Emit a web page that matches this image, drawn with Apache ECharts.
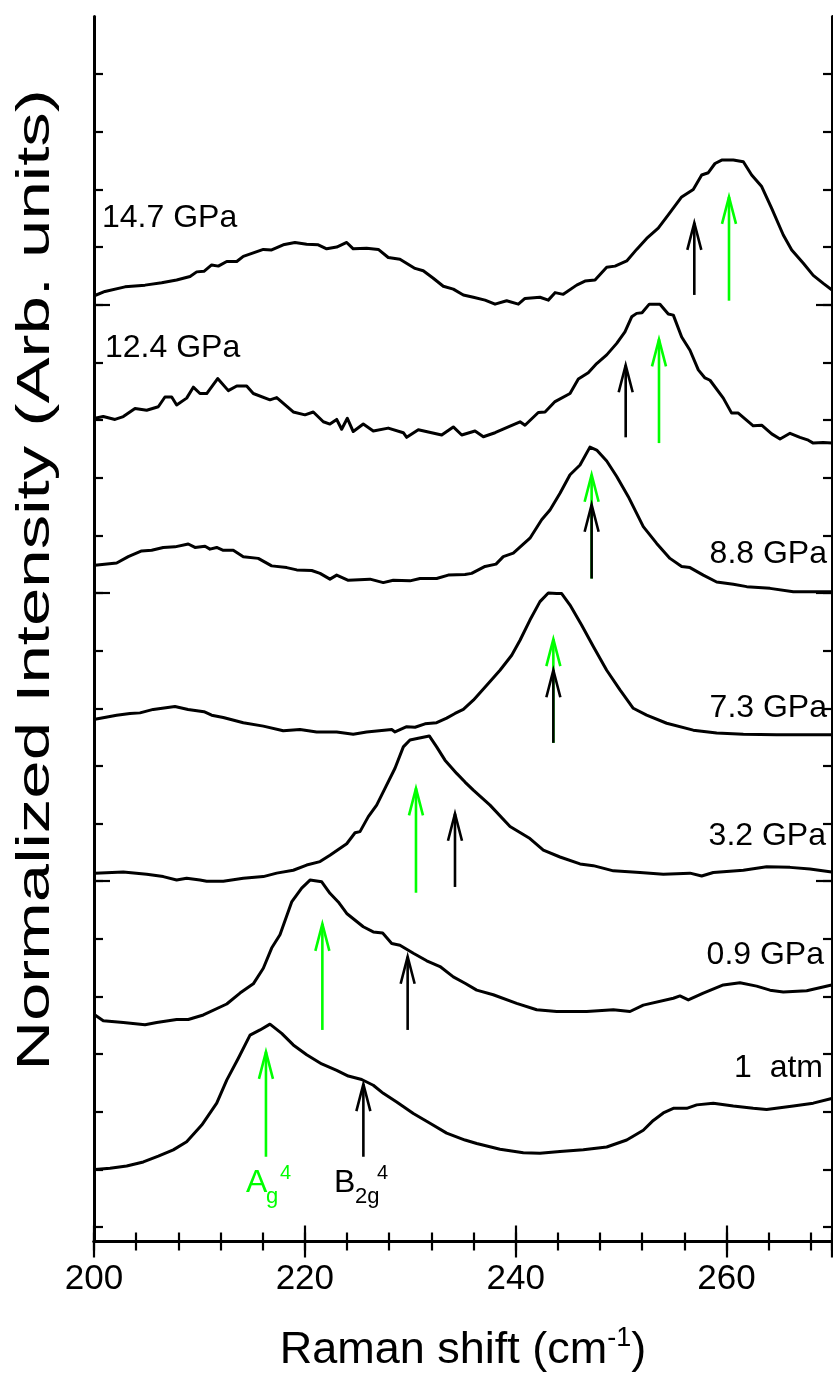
<!DOCTYPE html>
<html><head><meta charset="utf-8">
<script src="https://cdn.jsdelivr.net/npm/echarts@6/dist/echarts.min.js"></script>
<style>html,body{margin:0;padding:0;background:#fff}#c{width:833px;height:1378px}</style>
</head><body><div id="c"></div><script>
// ---- spectra (Raman shift in cm^-1, offset normalized intensity) ----
const shift_147 = [200.09,201.04,202.94,204.84,206.42,207.84,209.11,209.74,210.43,211.16,211.79,212.59,213.54,214.16,215.11,216.06,216.85,217.95,219.06,220.17,221.27,222.07,223.02,223.97,224.59,225.86,226.97,227.91,229.02,230.45,231.23,232.18,233.13,234.08,235.03,235.98,237.09,238.04,239.14,240.25,240.88,242.3,243.09,243.73,244.51,245.78,246.57,247.52,248.63,249.42,250.53,251.47,252.42,253.52,254.47,255.74,256.84,257.64,258.27,258.9,259.54,260.64,261.59,262.38,263.33,264.28,265.38,266.18,267.28,268.22,269.17,269.97];
const int_147 = [16.41,16.48,16.56,16.59,16.63,16.68,16.74,16.82,16.83,16.94,16.92,17.00,17.00,17.09,17.15,17.21,17.20,17.29,17.33,17.30,17.29,17.22,17.25,17.33,17.22,17.23,17.21,17.07,17.04,16.88,16.84,16.71,16.57,16.52,16.42,16.38,16.33,16.26,16.32,16.26,16.36,16.38,16.33,16.46,16.43,16.59,16.66,16.68,16.90,16.92,17.01,17.21,17.40,17.58,17.81,18.12,18.25,18.50,18.54,18.70,18.76,18.76,18.73,18.50,18.30,17.92,17.46,17.20,16.97,16.76,16.62,16.51];

const shift_124 = [200.09,200.88,201.99,202.78,203.89,205.0,206.1,206.73,207.37,207.84,208.79,209.42,210.05,210.69,211.73,212.74,213.54,214.48,215.11,216.69,217.33,218.9,220.01,220.8,221.75,222.38,223.02,223.49,224.03,224.59,225.54,226.49,227.91,229.34,229.66,230.76,232.98,234.08,234.88,236.14,236.93,238.04,239.3,240.41,240.88,242.14,242.78,243.73,245.15,245.94,246.88,247.68,248.63,249.58,250.36,251.0,251.47,251.98,252.67,253.68,254.47,254.95,255.74,256.53,257.32,257.95,258.43,259.69,260.48,261.11,262.53,263.33,264.28,265.07,266.02,266.96,267.75,268.22,269.17,269.97];
const int_124 = [14.28,14.31,14.26,14.31,14.45,14.42,14.48,14.65,14.65,14.51,14.63,14.82,14.71,14.71,14.97,14.76,14.84,14.84,14.71,14.60,14.64,14.39,14.34,14.39,14.22,14.18,14.26,14.09,14.28,14.05,14.18,14.06,14.11,14.03,13.95,14.08,13.99,14.13,13.99,14.06,13.96,14.03,14.13,14.22,14.16,14.38,14.39,14.57,14.71,14.96,15.07,15.23,15.38,15.58,15.78,16.04,16.10,16.11,16.26,16.26,16.09,16.07,15.69,15.46,15.12,14.98,14.94,14.63,14.37,14.37,14.15,14.16,14.01,13.92,14.02,13.95,13.90,13.85,13.86,13.85];

const shift_88 = [200.09,202.15,203.25,204.52,205.47,206.57,207.68,208.94,209.58,210.53,211.0,211.64,212.26,213.21,214.16,215.58,216.85,218.28,219.23,220.65,221.44,222.38,223.02,224.12,226.18,227.44,228.39,229.97,230.92,232.5,233.6,235.19,235.82,237.09,238.13,238.82,239.77,241.35,242.46,243.25,244.2,245.15,246.1,247.04,247.68,248.63,249.58,250.68,252.1,253.37,254.63,255.74,256.53,257.79,259.06,260.64,261.91,264.12,266.33,267.91,270.0];
const int_88 = [11.73,11.77,11.88,11.98,11.99,12.04,12.05,12.10,12.04,12.06,12.01,12.04,11.99,11.99,11.88,11.85,11.72,11.69,11.65,11.64,11.59,11.49,11.56,11.47,11.49,11.43,11.47,11.46,11.50,11.50,11.56,11.57,11.59,11.71,11.75,11.88,11.94,12.20,12.52,12.69,12.98,13.30,13.47,13.78,13.73,13.54,13.27,12.92,12.40,12.11,11.85,11.71,11.69,11.56,11.44,11.40,11.36,11.33,11.27,11.27,11.27];

const shift_73 = [200.09,202.15,203.41,204.36,205.62,207.68,208.92,210.43,211.16,212.26,214.16,216.06,217.95,219.54,221.12,223.02,224.59,225.86,228.24,228.55,229.66,230.45,231.4,232.5,233.45,234.24,235.03,235.98,237.25,238.51,239.62,240.41,241.35,242.3,243.09,243.89,244.36,245.15,246.26,247.36,248.63,249.89,251.15,252.42,254.32,256.84,259.06,261.59,264.75,269.97];
const int_73 = [9.06,9.13,9.16,9.17,9.23,9.28,9.23,9.19,9.13,9.09,9.00,8.94,8.86,8.88,8.84,8.84,8.80,8.84,8.88,8.84,8.93,8.92,8.98,9.00,9.08,9.16,9.23,9.39,9.65,9.91,10.17,10.43,10.78,11.10,11.25,11.24,11.24,11.04,10.69,10.32,9.91,9.57,9.25,9.13,8.99,8.87,8.82,8.80,8.79,8.79];

const shift_32 = [200.09,202.78,205.0,206.57,207.84,208.79,210.05,210.69,212.26,214.16,216.06,217.33,218.9,220.17,221.44,222.38,223.97,224.76,225.23,226.02,226.81,227.6,228.55,229.34,229.97,230.76,231.8,232.5,233.29,234.4,235.19,235.98,237.56,239.46,241.35,242.62,244.2,246.1,247.36,249.26,251.79,254.0,256.53,257.64,258.74,261.59,263.8,266.02,267.91,269.97];
const int_32 = [6.39,6.41,6.37,6.33,6.27,6.30,6.27,6.25,6.25,6.30,6.33,6.39,6.44,6.53,6.59,6.70,6.90,7.09,7.11,7.37,7.57,7.86,8.21,8.58,8.70,8.73,8.77,8.58,8.35,8.12,7.97,7.83,7.57,7.20,6.99,6.79,6.67,6.55,6.52,6.43,6.40,6.37,6.39,6.34,6.40,6.44,6.50,6.49,6.46,6.41];

const shift_09 = [200.09,200.88,202.78,204.84,205.95,207.84,208.94,210.37,212.59,213.85,215.11,216.06,216.85,217.64,218.75,219.7,220.49,221.6,222.38,223.17,223.97,225.54,226.49,227.38,228.24,229.02,230.29,231.56,232.82,234.08,235.19,236.3,237.87,240.09,241.99,243.89,246.73,249.26,250.84,252.1,254.95,255.58,256.37,257.79,259.69,261.27,262.85,264.12,265.38,267.6,269.97];
const int_09 = [3.93,3.83,3.80,3.76,3.80,3.85,3.85,3.93,4.12,4.31,4.47,4.74,5.09,5.32,5.89,6.13,6.27,6.24,6.04,5.89,5.69,5.46,5.37,5.35,5.17,5.14,5.00,4.87,4.77,4.59,4.48,4.36,4.28,4.13,4.02,3.99,3.99,4.02,3.99,4.10,4.22,4.26,4.19,4.31,4.45,4.49,4.43,4.36,4.33,4.35,4.45];

const shift_atm = [200.09,201.52,203.1,204.68,206.1,207.52,208.79,210.22,211.64,212.59,213.69,214.8,215.75,216.69,217.8,218.9,220.17,221.6,223.02,224.12,225.39,226.49,227.44,228.71,230.29,231.87,233.45,235.19,236.3,238.51,240.72,242.3,244.2,246.41,248.63,250.53,252.1,253.05,254.0,254.95,256.22,257.17,258.74,260.64,262.53,263.8,266.33,268.22,269.97];
const int_atm = [1.25,1.27,1.31,1.38,1.48,1.59,1.73,2.02,2.40,2.80,3.18,3.58,3.67,3.77,3.61,3.41,3.24,3.08,2.97,2.87,2.81,2.71,2.57,2.42,2.22,2.05,1.88,1.76,1.70,1.60,1.54,1.53,1.56,1.59,1.64,1.76,1.93,2.10,2.23,2.31,2.31,2.37,2.40,2.35,2.31,2.29,2.35,2.40,2.48];

// ---- mode markers (position, arrow base, arrow tip) ----
const ag4Pos  = [260.23,253.59,247.2,243.57,230.54,221.66,216.31];
const ag4Base = [16.32,13.85,11.50,8.65,6.05,3.67,1.47];
const ag4Tip  = [18.12,15.65,13.30,10.45,7.86,5.51,3.29];
const b2g4Pos  = [256.94,250.43,247.2,243.57,234.24,229.75,225.55];
const b2g4Base = [16.42,13.95,11.50,8.65,6.15,3.67,1.47];
const b2g4Tip  = [17.67,15.20,12.78,9.91,7.42,4.94,2.73];

const pressureLabels = ['14.7 GPa','12.4 GPa','8.8 GPa','7.3 GPa','3.2 GPa','0.9 GPa','1  atm'];
const xTickLabels = ['200','220','240','260'];
const yMinorTicks = [0.25,1.25,2.25,3.25,4.25,5.25,6.25,7.25,8.25,9.25,10.25,11.25,12.25,13.25,14.25,15.25,16.25,17.25,18.25,19.25,20.25];
const yMajorTicks = [6.25,11.25,16.25];

const FONT = 'Liberation Sans, Arial, sans-serif';
const spectra = [[shift_147,int_147],[shift_124,int_124],[shift_88,int_88],[shift_73,int_73],[shift_32,int_32],[shift_09,int_09],[shift_atm,int_atm]];

const chart = echarts.init(document.getElementById('c'), null, {renderer:'canvas'});

function xAx(pos, interval, len, line, labels){
  return {type:'value', position:pos, min:200, max:270, interval:interval,
    axisLine:{show:line, lineStyle:{color:'#000', width:3}},
    axisTick:{show:true, inside:true, length:len, lineStyle:{color:'#000', width:2.2}},
    axisLabel:{show:labels, showMaxLabel:false, margin:20, fontSize:35, color:'#000', fontFamily:FONT,
      formatter: v => xTickLabels.indexOf(String(v))>=0 ? String(v) : ''},
    splitLine:{show:false}};
}
function yAx(pos, ticks, len, line){
  return {type:'value', position:pos, min:0, max:21.25,
    axisLine:{show:line, onZero:false, lineStyle:{color:'#000', width:3}},
    axisTick:{show:true, inside:true, length:len, customValues:ticks, lineStyle:{color:'#000', width:2.2}},
    axisLabel:{show:false}, splitLine:{show:false}};
}

const xa0 = xAx('bottom',20,16,true,true);
xa0.name = '{a|Raman shift (cm}{s|-1}{a|)}';
xa0.nameLocation = 'middle';
xa0.nameGap = 84;
xa0.nameTextStyle = {rich:{
  a:{fontSize:45, fontFamily:FONT, color:'#000', lineHeight:50},
  s:{fontSize:27, fontFamily:FONT, color:'#000', lineHeight:50, verticalAlign:'top'}}};

function arrowSeries(pos, base, tip, color){
  return {type:'custom', xAxisIndex:0, yAxisIndex:0, z:5,
    data: pos.map((p,i)=>[p, base[i], tip[i]]),
    renderItem:function(params, api){
      const b = api.coord([api.value(0), api.value(1)]);
      const t = api.coord([api.value(0), api.value(2)]);
      return {type:'group', children:[
        {type:'line', shape:{x1:b[0],y1:b[1],x2:t[0],y2:t[1]}, style:{stroke:color, lineWidth:2.6}},
        {type:'polyline', shape:{points:[[t[0]-7,t[1]+27],[t[0],t[1]],[t[0]+7,t[1]+27]]}, style:{stroke:color, lineWidth:2.6, fill:null}}
      ]};
    }};
}

const series = spectra.map(s => ({type:'line', xAxisIndex:0, yAxisIndex:0, showSymbol:false, symbol:'none',
  data: s[0].map((x,i)=>[x, s[1][i]]), lineStyle:{color:'#000', width:3, join:'round'}, z:3}));
series.push(arrowSeries(ag4Pos, ag4Base, ag4Tip, '#00ff00'));
series.push(arrowSeries(b2g4Pos, b2g4Base, b2g4Tip, '#000000'));

const labelPos = [[102,218,'left'],[105,348,'left'],[827,554,'right'],[827,708,'right'],[826,836,'right'],[824,955,'right'],[823,1068,'right']];
const graphics = pressureLabels.map((t,i)=>({type:'text', x:labelPos[i][0], y:labelPos[i][1], z:10,
  style:{text:t, fontSize:32, fontFamily:FONT, fill:'#000', textAlign:labelPos[i][2], textVerticalAlign:'middle'}}));
graphics.push(
  {type:'text', x:246, y:1183, style:{text:'A', fontSize:32, fontFamily:FONT, fill:'#00ff00', textVerticalAlign:'middle'}},
  {type:'text', x:266, y:1197, style:{text:'g', fontSize:22, fontFamily:FONT, fill:'#00ff00', textVerticalAlign:'middle'}},
  {type:'text', x:280, y:1173, style:{text:'4', fontSize:20, fontFamily:FONT, fill:'#00ff00', textVerticalAlign:'middle'}},
  {type:'text', x:334, y:1183, style:{text:'B', fontSize:32, fontFamily:FONT, fill:'#000', textVerticalAlign:'middle'}},
  {type:'text', x:355, y:1197, style:{text:'2g', fontSize:22, fontFamily:FONT, fill:'#000', textVerticalAlign:'middle'}},
  {type:'text', x:377, y:1173, style:{text:'4', fontSize:20, fontFamily:FONT, fill:'#000', textVerticalAlign:'middle'}},
  {type:'text', x:36, y:580, rotation:Math.PI/2, scaleX:1.5, style:{text:'Normalized Intensity (Arb. units)', fontSize:46, fontFamily:FONT, fill:'#000', textAlign:'center', textVerticalAlign:'middle'}}
);

chart.setOption({
  animation:false,
  backgroundColor:'#fff',
  grid:{left:94, right:1, top:16.5, bottom:136.5, containLabel:false},
  xAxis:[xa0, xAx('bottom',4,9,false,false), xAx('top',20,16,true,false), xAx('top',4,9,false,false)],
  yAxis:[yAx('left',yMinorTicks,9,true), yAx('left',yMajorTicks,16,false), yAx('right',yMinorTicks,9,true), yAx('right',yMajorTicks,16,false)],
  series:series,
  graphic:graphics
});
</script></body></html>
